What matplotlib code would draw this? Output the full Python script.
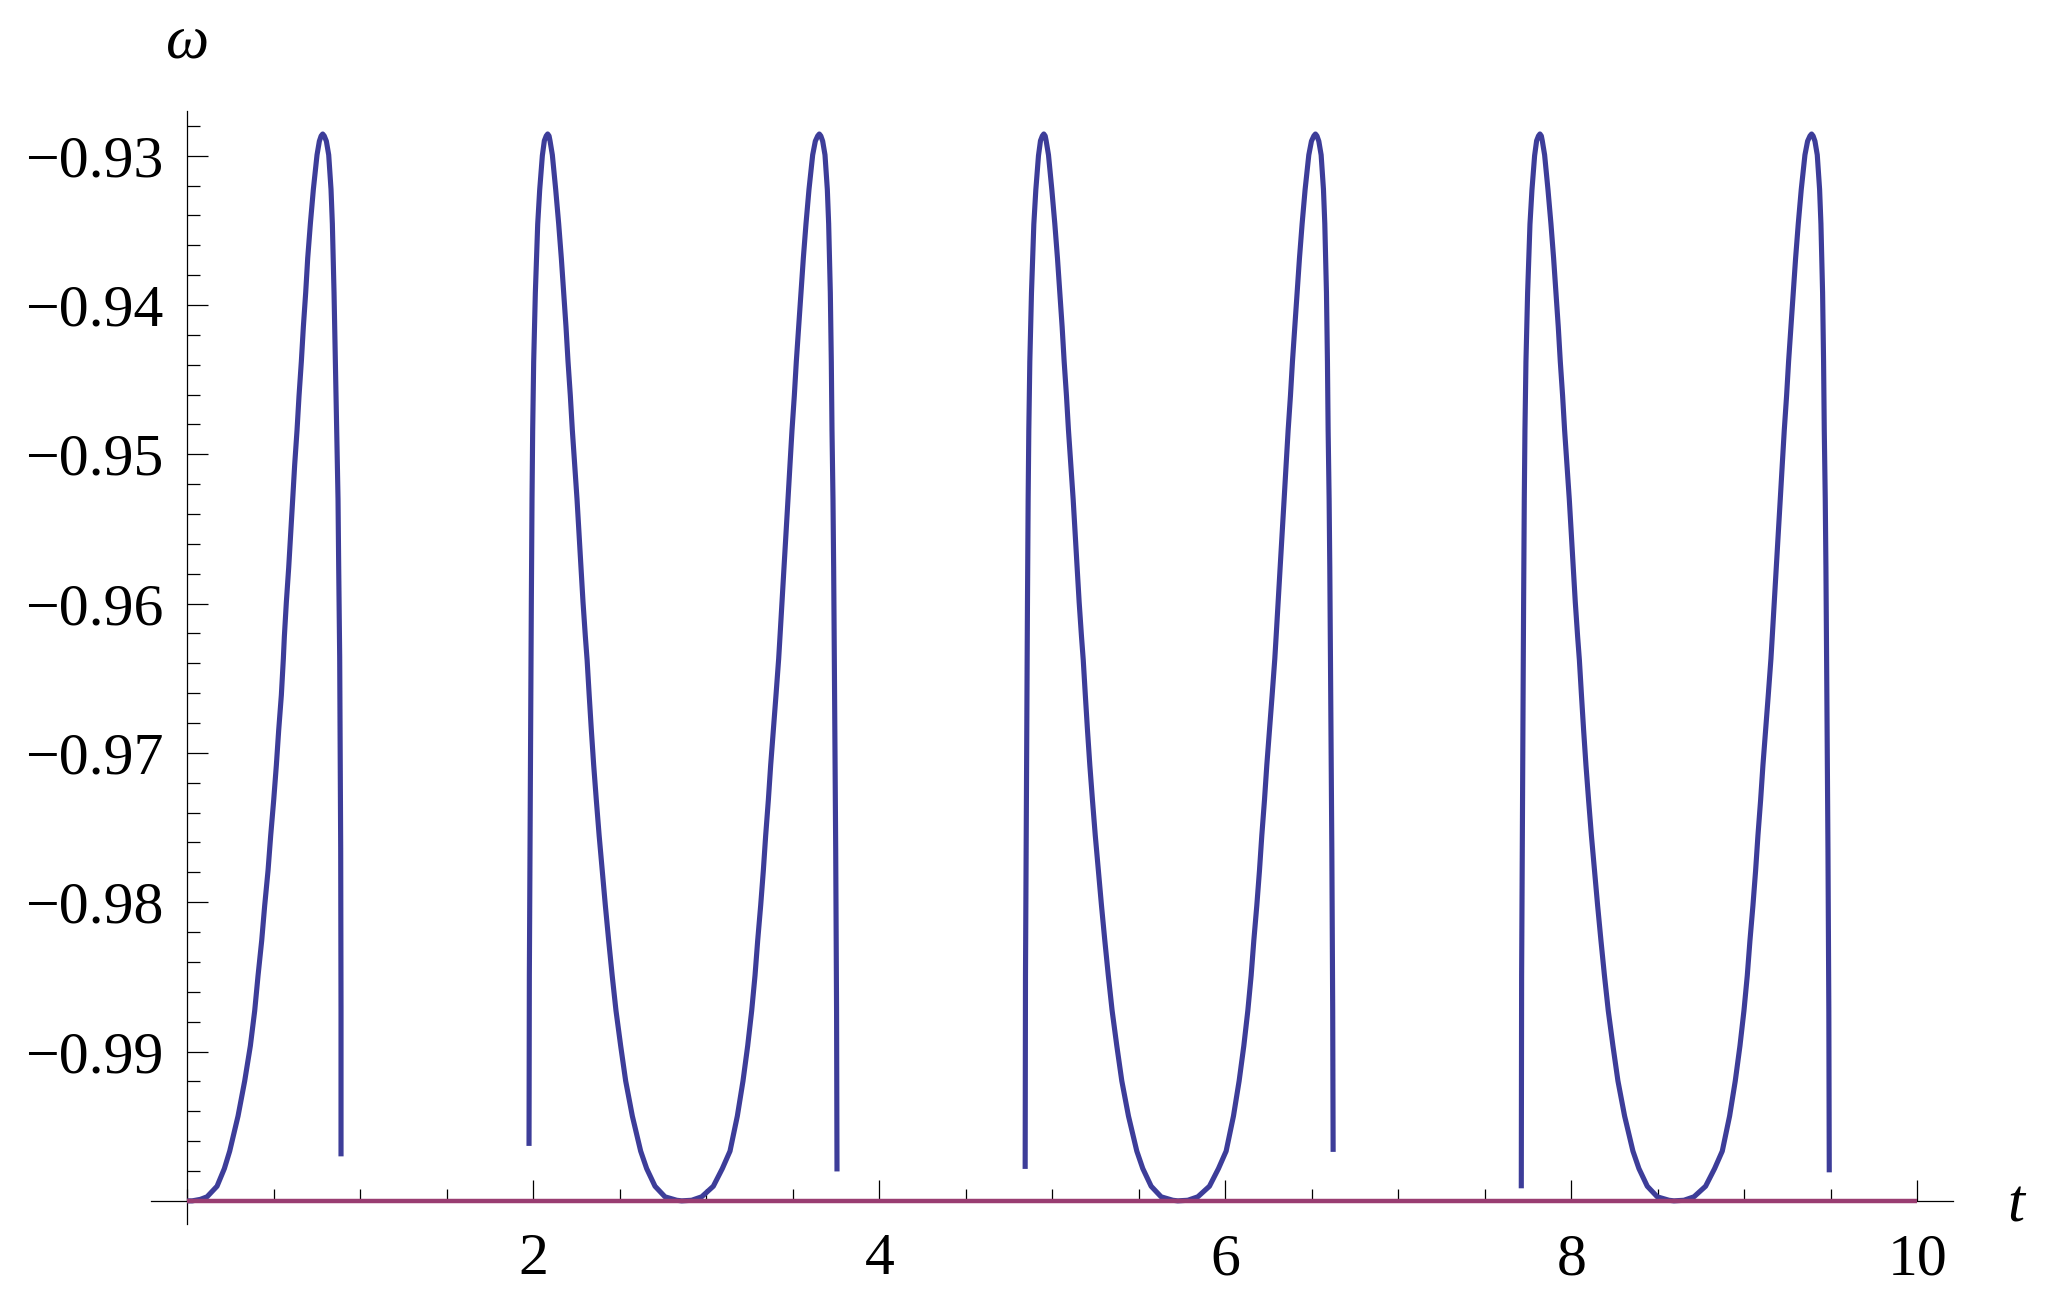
import matplotlib
matplotlib.use("Agg")
import matplotlib.pyplot as plt
from matplotlib.ticker import MultipleLocator

plt.rcParams["font.family"] = ["Liberation Serif", "DejaVu Serif"]

# colours of the two curves (Mathematica style)
BLUE = "#3d3d99"
RED = "#993d71"

# --- data ----------------------------------------------------------------
# first branch: from the minimum at t=0 up to the first peak, then the drop
t_seg1 = [0.0000, 0.0280, 0.0753, 0.1139, 0.1717, 0.2140, 0.2449, 0.2931, 0.3316, 0.3643,
          0.3894, 0.4087, 0.4299, 0.4472, 0.4665, 0.4819, 0.4992, 0.5146, 0.5281, 0.5435,
          0.5550, 0.5609, 0.5724, 0.5859, 0.5975, 0.6091, 0.6206, 0.6341, 0.6457, 0.6591,
          0.6707, 0.6842, 0.6958, 0.7112, 0.7285, 0.7497, 0.7632, 0.7735, 0.7825, 0.7915,
          0.8037, 0.8172, 0.8306, 0.8383, 0.8480, 0.8557, 0.8634, 0.8711, 0.8750, 0.8807,
          0.8865, 0.8884, 0.8884]
w_seg1 = [-1.0, -1.0, -0.9999, -0.99973, -0.99902, -0.99784, -0.99667, -0.99432, -0.99197, -0.98962,
          -0.98727, -0.98492, -0.98257, -0.98022, -0.97788, -0.97553, -0.97317, -0.97082, -0.96848, -0.96613,
          -0.96370, -0.9622, -0.9599, -0.9576, -0.9553, -0.9530, -0.95069, -0.94839, -0.94608, -0.94378,
          -0.94147, -0.93917, -0.93687, -0.93456, -0.93226, -0.92995, -0.92903, -0.92868, -0.92855, -0.92868,
          -0.92903, -0.92995, -0.93226, -0.93456, -0.93917, -0.94378, -0.94839, -0.9530, -0.9576, -0.9636,
          -0.97646, -0.98727, -0.99702]

# second branch: jump at t~1.98, two peaks, drop at t~3.76
t_seg2 = [1.9752, 1.9771, 1.9867, 1.9886, 1.9925, 1.9963, 2.0021, 2.0117, 2.0253, 2.0368,
          2.0522, 2.0638, 2.0745, 2.0830, 2.0910, 2.0965, 2.1100, 2.1293, 2.1466, 2.1620,
          2.1755, 2.1890, 2.2006, 2.2140, 2.2256, 2.2391, 2.2526, 2.2642, 2.2757, 2.2873,
          2.3008, 2.3110, 2.3230, 2.3355, 2.3490, 2.3643, 2.3805, 2.3985, 2.4164, 2.4357,
          2.4560, 2.4780, 2.5050, 2.5339, 2.5724, 2.6206, 2.6553, 2.7035, 2.7613, 2.8287,
          2.8576, 2.9154, 2.9732, 3.0406, 3.0926, 3.1370, 3.1794, 3.2121, 3.2392, 3.2623,
          3.2815, 3.2970, 3.3143, 3.3297, 3.3432, 3.3586, 3.3721, 3.3875, 3.4029, 3.4183,
          3.4260, 3.4376, 3.4491, 3.4607, 3.4723, 3.4838, 3.4954, 3.5088, 3.5204, 3.5339,
          3.5474, 3.5609, 3.5763, 3.5936, 3.6149, 3.6302, 3.6440, 3.6533, 3.6620, 3.6727,
          3.6861, 3.6996, 3.7073, 3.7169, 3.7226, 3.7266, 3.7323, 3.7362, 3.7400, 3.7480,
          3.7530, 3.7555]
w_seg2 = [-0.99632, -0.9849, -0.9638, -0.9599, -0.9530, -0.9484, -0.9438, -0.9392, -0.9346, -0.9323,
          -0.9300, -0.9290, -0.92868, -0.92855, -0.92868, -0.9290, -0.92995, -0.93226, -0.93456, -0.93687,
          -0.93917, -0.94147, -0.94378, -0.94608, -0.94839, -0.95069, -0.9530, -0.9553, -0.9576, -0.9599,
          -0.9622, -0.96378, -0.96613, -0.96848, -0.97082, -0.97317, -0.97553, -0.97788, -0.98022, -0.98257,
          -0.98492, -0.98727, -0.98962, -0.99197, -0.99432, -0.99667, -0.99784, -0.99902, -0.99973, -0.99996,
          -1.0, -0.99996, -0.99973, -0.99902, -0.99784, -0.99667, -0.99432, -0.99197, -0.98962, -0.98727,
          -0.98492, -0.98257, -0.98022, -0.97788, -0.97553, -0.97317, -0.97082, -0.96848, -0.96613, -0.96370,
          -0.9622, -0.9599, -0.9576, -0.9553, -0.9530, -0.95069, -0.94839, -0.94608, -0.94378, -0.94147,
          -0.93917, -0.93687, -0.93456, -0.93226, -0.92995, -0.92903, -0.92868, -0.92855, -0.92868, -0.92903,
          -0.92995, -0.93226, -0.93456, -0.93917, -0.94378, -0.94839, -0.9530, -0.9576, -0.9636, -0.9765,
          -0.9873, -0.99803]

# third branch: jump at t~4.84, drop at t~6.62
t_seg3 = [4.8432, 4.8451, 4.8547, 4.8566, 4.8605, 4.8643, 4.8701, 4.8797, 4.8933, 4.9048,
          4.9202, 4.9318, 4.9425, 4.9510, 4.9590, 4.9645, 4.9780, 4.9973, 5.0146, 5.0300,
          5.0435, 5.0570, 5.0686, 5.0820, 5.0936, 5.1071, 5.1206, 5.1322, 5.1437, 5.1553,
          5.1688, 5.1790, 5.1910, 5.2035, 5.2170, 5.2323, 5.2485, 5.2665, 5.2844, 5.3037,
          5.3240, 5.3460, 5.3730, 5.4019, 5.4404, 5.4886, 5.5233, 5.5715, 5.6293, 5.6967,
          5.7256, 5.7834, 5.8412, 5.9086, 5.9606, 6.0050, 6.0474, 6.0801, 6.1072, 6.1303,
          6.1495, 6.1650, 6.1823, 6.1977, 6.2112, 6.2266, 6.2401, 6.2555, 6.2709, 6.2863,
          6.2940, 6.3056, 6.3171, 6.3287, 6.3403, 6.3518, 6.3634, 6.3768, 6.3884, 6.4019,
          6.4154, 6.4289, 6.4443, 6.4616, 6.4829, 6.4982, 6.5120, 6.5213, 6.5300, 6.5407,
          6.5541, 6.5676, 6.5753, 6.5849, 6.5906, 6.5946, 6.6003, 6.6042, 6.6080, 6.6160,
          6.6210, 6.6235]
w_seg3 = [-0.99786, -0.9849, -0.9638, -0.9599, -0.9530, -0.9484, -0.9438, -0.9392, -0.9346, -0.9323,
          -0.9300, -0.9290, -0.92868, -0.92855, -0.92868, -0.9290, -0.92995, -0.93226, -0.93456, -0.93687,
          -0.93917, -0.94147, -0.94378, -0.94608, -0.94839, -0.95069, -0.9530, -0.9553, -0.9576, -0.9599,
          -0.9622, -0.96378, -0.96613, -0.96848, -0.97082, -0.97317, -0.97553, -0.97788, -0.98022, -0.98257,
          -0.98492, -0.98727, -0.98962, -0.99197, -0.99432, -0.99667, -0.99784, -0.99902, -0.99973, -0.99996,
          -1.0, -0.99996, -0.99973, -0.99902, -0.99784, -0.99667, -0.99432, -0.99197, -0.98962, -0.98727,
          -0.98492, -0.98257, -0.98022, -0.97788, -0.97553, -0.97317, -0.97082, -0.96848, -0.96613, -0.96370,
          -0.9622, -0.9599, -0.9576, -0.9553, -0.9530, -0.95069, -0.94839, -0.94608, -0.94378, -0.94147,
          -0.93917, -0.93687, -0.93456, -0.93226, -0.92995, -0.92903, -0.92868, -0.92855, -0.92868, -0.92903,
          -0.92995, -0.93226, -0.93456, -0.93917, -0.94378, -0.94839, -0.9530, -0.9576, -0.9636, -0.9765,
          -0.9873, -0.99672]

# fourth branch: jump at t~7.71, drop at t~9.49
t_seg4 = [7.7112, 7.7131, 7.7227, 7.7246, 7.7285, 7.7323, 7.7381, 7.7477, 7.7613, 7.7728,
          7.7882, 7.7998, 7.8105, 7.8190, 7.8270, 7.8325, 7.8460, 7.8653, 7.8826, 7.8980,
          7.9115, 7.9250, 7.9366, 7.9500, 7.9616, 7.9751, 7.9886, 8.0002, 8.0117, 8.0233,
          8.0368, 8.0470, 8.0590, 8.0715, 8.0850, 8.1003, 8.1165, 8.1345, 8.1524, 8.1717,
          8.1920, 8.2140, 8.2410, 8.2699, 8.3084, 8.3566, 8.3913, 8.4395, 8.4973, 8.5647,
          8.5936, 8.6514, 8.7092, 8.7766, 8.8286, 8.8730, 8.9154, 8.9481, 8.9752, 8.9983,
          9.0175, 9.0330, 9.0503, 9.0657, 9.0792, 9.0946, 9.1081, 9.1235, 9.1389, 9.1543,
          9.1620, 9.1736, 9.1851, 9.1967, 9.2083, 9.2198, 9.2314, 9.2448, 9.2564, 9.2699,
          9.2834, 9.2969, 9.3123, 9.3296, 9.3509, 9.3662, 9.3800, 9.3893, 9.3980, 9.4087,
          9.4221, 9.4356, 9.4433, 9.4529, 9.4586, 9.4626, 9.4683, 9.4722, 9.4760, 9.4840,
          9.4890, 9.4915]
w_seg4 = [-0.99916, -0.9849, -0.9638, -0.9599, -0.9530, -0.9484, -0.9438, -0.9392, -0.9346, -0.9323,
          -0.9300, -0.9290, -0.92868, -0.92855, -0.92868, -0.9290, -0.92995, -0.93226, -0.93456, -0.93687,
          -0.93917, -0.94147, -0.94378, -0.94608, -0.94839, -0.95069, -0.9530, -0.9553, -0.9576, -0.9599,
          -0.9622, -0.96378, -0.96613, -0.96848, -0.97082, -0.97317, -0.97553, -0.97788, -0.98022, -0.98257,
          -0.98492, -0.98727, -0.98962, -0.99197, -0.99432, -0.99667, -0.99784, -0.99902, -0.99973, -0.99996,
          -1.0, -0.99996, -0.99973, -0.99902, -0.99784, -0.99667, -0.99432, -0.99197, -0.98962, -0.98727,
          -0.98492, -0.98257, -0.98022, -0.97788, -0.97553, -0.97317, -0.97082, -0.96848, -0.96613, -0.96370,
          -0.9622, -0.9599, -0.9576, -0.9553, -0.9530, -0.95069, -0.94839, -0.94608, -0.94378, -0.94147,
          -0.93917, -0.93687, -0.93456, -0.93226, -0.92995, -0.92903, -0.92868, -0.92855, -0.92868, -0.92903,
          -0.92995, -0.93226, -0.93456, -0.93917, -0.94378, -0.94839, -0.9530, -0.9576, -0.9636, -0.9765,
          -0.9873, -0.99809]

# second curve: constant at the bottom
t_base = [0.0, 10.0]
w_base = [-1.0, -1.0]

x_major = [2, 4, 6, 8, 10]
x_labels = ["2", "4", "6", "8", "10"]
y_major = [-0.99, -0.98, -0.97, -0.96, -0.95, -0.94, -0.93]
y_labels = ["\u22120.99", "\u22120.98", "\u22120.97", "\u22120.96",
            "\u22120.95", "\u22120.94", "\u22120.93"]

# --- figure ---------------------------------------------------------------
fig = plt.figure(figsize=(20.47, 13.04), dpi=100)
ax = fig.add_axes([0.07377, 0.06112, 0.88016, 0.85376])

for tt, ww in [(t_seg1, w_seg1), (t_seg2, w_seg2), (t_seg3, w_seg3), (t_seg4, w_seg4)]:
    ax.plot(tt, ww, color=BLUE, lw=3.7, solid_capstyle="butt",
            solid_joinstyle="round", zorder=3)
ax.plot(t_base, w_base, color=RED, lw=3.2, solid_capstyle="butt", zorder=4)

ax.set_xlim(-0.21, 10.205)
ax.set_ylim(-1.00157, -0.92701)

for s in ["top", "right"]:
    ax.spines[s].set_visible(False)
ax.spines["left"].set_position(("data", 0))
ax.spines["bottom"].set_position(("data", -1.0))
for s in ["left", "bottom"]:
    ax.spines[s].set_linewidth(0.9)
    ax.spines[s].set_zorder(2)

ax.set_xticks(x_major)
ax.set_xticklabels(x_labels)
ax.set_yticks(y_major)
ax.set_yticklabels(y_labels)
ax.xaxis.set_minor_locator(MultipleLocator(0.5))
ax.yaxis.set_minor_locator(MultipleLocator(0.002))

ax.tick_params(which="both", direction="in", width=0.9, labelsize=43)
ax.tick_params(which="major", length=15)
ax.tick_params(which="minor", length=9)
ax.tick_params(axis="x", pad=23.5)
ax.tick_params(axis="y", pad=17.5)

fig.text(188 / 2047, 1 - 57 / 1304, "\u03c9", ha="center", va="baseline",
         fontsize=44, style="italic")
fig.text(2016 / 2047, 1 - 1222 / 1304, "t", ha="center", va="baseline",
         fontsize=44, style="italic")

fig.savefig("out.png", dpi=100)
